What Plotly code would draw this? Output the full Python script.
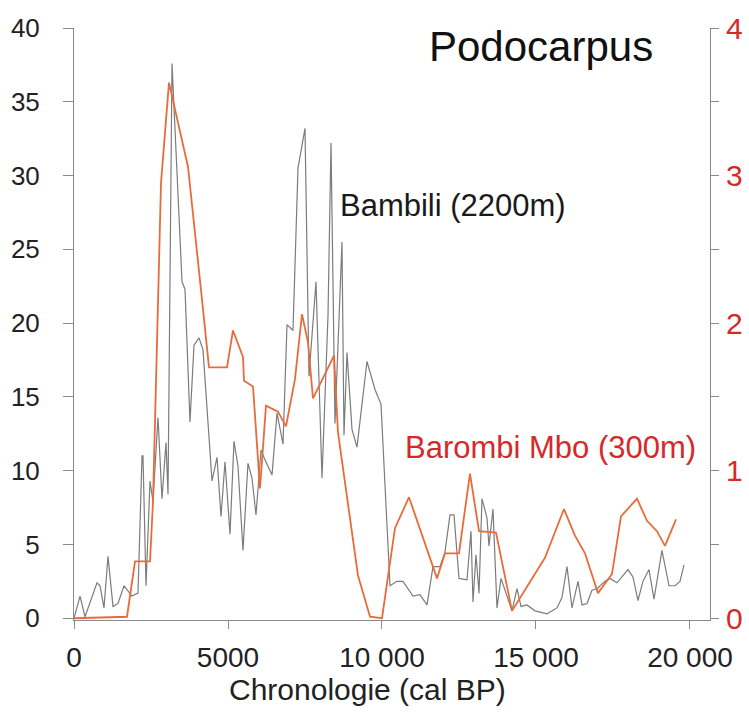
import plotly.graph_objects as go

# Bambili (2200m) – Podocarpus %, left axis
bambili_age = [0, 195, 357, 747, 844, 974, 1104, 1266, 1429, 1623, 1883, 2078, 2208, 2240, 2338,
               2468, 2565, 2727, 2857, 2987, 3052, 3182, 3507, 3604, 3766, 3896, 4058, 4188, 4481,
               4643, 4773, 4903, 5065, 5195, 5325, 5487, 5649, 5779, 5909, 6072, 6169, 6429, 6591,
               6786, 6916, 7110, 7273, 7500, 7630, 7857, 8052, 8247, 8344, 8474, 8701, 8766, 8864,
               9026, 9188, 9513, 9773, 9968, 10260, 10487, 10682, 11007, 11234, 11461, 11656, 11883,
               12046, 12208, 12338, 12500, 12760, 12890, 12955, 13052, 13150, 13247, 13409, 13474,
               13604, 13734, 13864, 14026, 14221, 14383, 14513, 14708, 14968, 15357, 15682, 15844,
               16007, 16169, 16364, 16494, 16656, 16818, 16981, 17240, 17403, 17630, 17987, 18149,
               18312, 18474, 18669, 18831, 19091, 19318, 19513, 19675, 19805]
bambili_pct = [0, 1.5, 0.1, 2.4, 2.2, 0.7, 4.2, 0.8, 1.0, 2.2, 1.5, 1.7, 11.0, 11.0, 2.2,
               9.3, 7.9, 13.6, 8.1, 11.9, 8.4, 37.6, 22.8, 22.3, 13.3, 18.5, 19.0, 18.2, 9.3,
               10.9, 6.9, 10.6, 5.7, 12.0, 10.3, 4.6, 10.5, 9.5, 7.0, 11.4, 10.9, 9.7, 13.9,
               11.8, 19.9, 19.5, 30.5, 33.2, 16.4, 22.8, 9.5, 20.5, 32.2, 13.2, 25.5, 12.4, 18.0,
               12.8, 11.6, 17.4, 15.5, 14.5, 2.2, 2.5, 2.5, 1.5, 1.6, 0.9, 3.5, 3.5,
               4.5, 7.0, 7.0, 2.7, 2.6, 5.9, 1.1, 4.3, 1.7, 8.1, 6.8, 4.9,
               7.4, 0.7, 2.7, 1.7, 0.5, 2.0, 0.8, 0.9, 0.5, 0.3, 0.7, 1.4,
               3.5, 0.7, 2.5, 0.9, 1.0, 1.9, 2.0, 2.5, 2.7, 2.4, 3.3, 2.8,
               1.2, 2.5, 3.3, 1.3, 4.6, 2.2, 2.2, 2.5, 3.6]

# Barombi Mbo (300m) – Podocarpus %, right axis
barombi_age = [0, 1721, 1981, 2468, 2565, 2825, 3084, 3701, 4156, 4383, 4968, 5162, 5487, 5520,
               5812, 6039, 6234, 6623, 6883, 7175, 7403, 7597, 7760, 8442, 8571, 8896, 9221, 9611,
               10000, 10422, 10877, 11786, 12046, 12500, 12857, 13150, 13701, 14221, 15292, 15909,
               16266, 16591, 17013, 17468, 17760, 18279, 18604, 18929, 19188, 19546]
barombi_pct = [0, 0.01, 0.385, 0.385, 0.79, 2.95, 3.63, 3.06, 2.16, 1.70, 1.70, 1.95, 1.77, 1.61,
               1.57, 0.88, 1.44, 1.40, 1.30, 1.62, 2.06, 1.87, 1.49, 1.78, 1.26, 0.76, 0.29, 0.01,
               0.0, 0.61, 0.82, 0.27, 0.44, 0.44, 0.98, 0.59, 0.58, 0.05, 0.41, 0.74,
               0.56, 0.44, 0.17, 0.30, 0.69, 0.81, 0.66, 0.59, 0.49, 0.67]

x_tickvals = [0, 5000, 10000, 15000, 20000]
x_ticktext = ["0", "5000", "10 000", "15 000", "20 000"]
y_tickvals = [0, 5, 10, 15, 20, 25, 30, 35, 40]
y2_tickvals = [0, 1, 2, 3, 4]

FONT = "Liberation Sans, Arial, sans-serif"
AXIS = "#8a8a8a"
RED = "#d42a2a"

fig = go.Figure()
fig.add_trace(go.Scatter(x=bambili_age, y=bambili_pct, mode="lines",
                         line=dict(color="#7c7c7c", width=1.2), yaxis="y"))
fig.add_trace(go.Scatter(x=barombi_age, y=barombi_pct, mode="lines",
                         line=dict(color="#e86c3a", width=1.8), yaxis="y2"))

fig.update_layout(
    width=749, height=717,
    margin=dict(l=74, r=39, t=28, b=97, autoexpand=False),
    paper_bgcolor="white", plot_bgcolor="white",
    showlegend=False,
    font=dict(family=FONT, color="#222222"),
    xaxis=dict(range=[0, 20650], tickvals=x_tickvals, ticktext=x_ticktext,
               showline=True, linecolor=AXIS, linewidth=1, ticks="outside",
               ticklen=8, tickcolor=AXIS, showgrid=False, zeroline=False,
               tickfont=dict(size=28, color="#222222"), ticklabelstandoff=4,
               layer="below traces", automargin=False),
    yaxis=dict(range=[-0.12, 40], tickvals=y_tickvals,
               showline=True, linecolor=AXIS, linewidth=1, ticks="outside",
               ticklen=10, tickcolor=AXIS, showgrid=False, zeroline=False,
               tickfont=dict(size=26, color="#222222"), ticklabelstandoff=18,
               layer="below traces", automargin=False),
    yaxis2=dict(range=[-0.012, 4], overlaying="y", side="right", tickvals=y2_tickvals,
                showline=True, linecolor=AXIS, linewidth=1, ticks="outside",
                ticklen=8, tickcolor=AXIS, showgrid=False, zeroline=False,
                tickfont=dict(size=30, color=RED), ticklabelstandoff=1,
                minor=dict(dtick=0.5, tick0=0, ticks="outside", ticklen=8, tickcolor=AXIS),
                layer="below traces", automargin=False),
    annotations=[
        dict(text="Podocarpus", xref="paper", yref="paper", x=0.9135, y=0.968,
             xanchor="right", yanchor="middle", showarrow=False,
             font=dict(size=42, color="#111111", family=FONT)),
        dict(text="Bambili (2200m)", xref="paper", yref="paper", x=0.415, y=0.701,
             xanchor="left", yanchor="middle", showarrow=False,
             font=dict(size=31, color="#1a1a1a", family=FONT)),
        dict(text="Barombi Mbo (300m)", xref="paper", yref="paper", x=0.517, y=0.292,
             xanchor="left", yanchor="middle", showarrow=False,
             font=dict(size=31, color=RED, family=FONT)),
        dict(text="Chronologie (cal BP)", xref="paper", yref="paper", x=0.462, y=-0.117,
             xanchor="center", yanchor="middle", showarrow=False,
             font=dict(size=30, color="#222222", family=FONT)),
    ],
)

fig.write_html("out.html")
